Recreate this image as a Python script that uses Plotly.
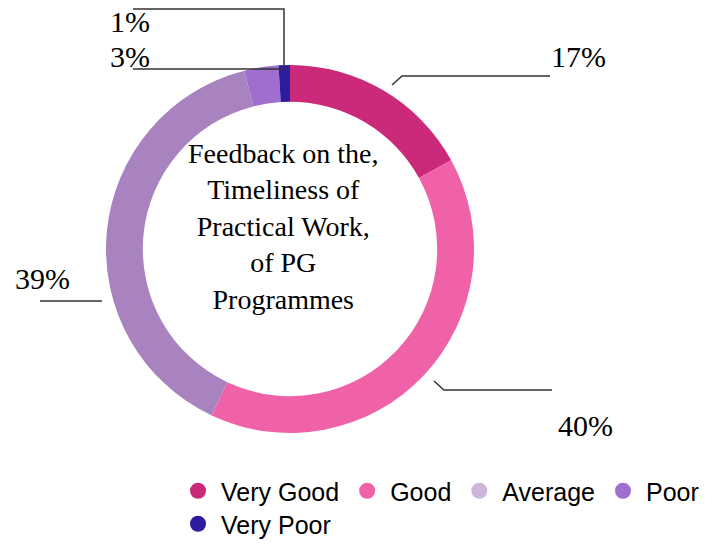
import plotly.graph_objects as go

# data
categories = ["Very Good", "Good", "Average", "Poor", "Very Poor"]
percentages = [17, 40, 39, 3, 1]
slice_colors = ["#CB2A7B", "#F062A8", "#A883BF", "#A06ECF", "#2E1C9E"]
legend_colors = ["#CB2A7B", "#F062A8", "#CDB6DA", "#A06ECF", "#2E1C9E"]
center_title = ["Feedback on the,", "Timeliness of", "Practical Work,", "of PG", "Programmes"]

W, H = 715, 544


def px_x(x):
    return x / W


def px_y(y):
    return 1 - y / H


# donut placement (pixels)
cx, cy, r = 290, 249, 184

fig = go.Figure()

fig.add_trace(go.Pie(
    labels=categories,
    values=percentages,
    sort=False,
    direction="clockwise",
    rotation=0,
    hole=0.80,
    marker=dict(colors=slice_colors, line=dict(width=0)),
    textinfo="none",
    hoverinfo="label+percent",
    showlegend=False,
    domain=dict(x=[px_x(cx - r), px_x(cx + r)], y=[px_y(cy + r), px_y(cy - r)]),
))

# legend entries with round markers; last one wraps to a second row
for i, (name, col) in enumerate(zip(categories, legend_colors)):
    fig.add_trace(go.Scatter(
        x=[None], y=[None], mode="markers", name=name,
        marker=dict(symbol="circle", size=16, color=col),
        legend="legend" if i < 4 else "legend2",
    ))

# outside labels and leader lines (pixel layout)
label_layout = {
    "Very Good": dict(pos=(578, 57), path=[(392, 85), (402, 76), (550, 76)]),
    "Good": dict(pos=(585, 425), path=[(434, 381), (444, 390), (552, 390)]),
    "Average": dict(pos=(42, 278), path=[(40, 301), (102, 301)]),
    "Poor": dict(pos=(130, 57), path=[(133, 69), (284, 69)]),
    "Very Poor": dict(pos=(130, 22), path=[(133, 9), (284, 9), (284, 68)]),
}

annotations = []
shapes = []
for name, pct in zip(categories, percentages):
    lay = label_layout[name]
    annotations.append(dict(
        x=px_x(lay["pos"][0]), y=px_y(lay["pos"][1]), xref="paper", yref="paper",
        text=f"{pct}%", showarrow=False, xanchor="center", yanchor="middle",
        font=dict(family="Liberation Serif", size=30, color="black"),
    ))
    pts = lay["path"]
    path = "M " + " L ".join(f"{px_x(x)},{px_y(y)}" for x, y in pts)
    shapes.append(dict(type="path", xref="paper", yref="paper", path=path,
                       line=dict(color="#333333", width=1.5)))

annotations.append(dict(
    x=px_x(283), y=px_y(226), xref="paper", yref="paper",
    text="<br>".join(center_title), showarrow=False,
    xanchor="center", yanchor="middle", align="center",
    font=dict(family="Liberation Serif", size=28, color="black"),
))

legend_font = dict(family="Liberation Sans", size=25, color="black")

fig.update_layout(
    width=W, height=H,
    margin=dict(l=0, r=0, t=0, b=0, autoexpand=False),
    paper_bgcolor="white", plot_bgcolor="white",
    xaxis=dict(visible=False), yaxis=dict(visible=False),
    annotations=annotations,
    shapes=shapes,
    legend=dict(
        orientation="h", x=px_x(175), y=px_y(468), xanchor="left", yanchor="top",
        font=legend_font, itemwidth=36, bgcolor="rgba(0,0,0,0)",
    ),
    legend2=dict(
        orientation="h", x=px_x(175), y=px_y(501), xanchor="left", yanchor="top",
        font=legend_font, itemwidth=36, bgcolor="rgba(0,0,0,0)",
    ),
)

# page body has a default 8px margin; drop it so the figure fills the window
fig.write_html("out.html", config={"displayModeBar": False},
               post_script="document.body.style.margin='0';")
